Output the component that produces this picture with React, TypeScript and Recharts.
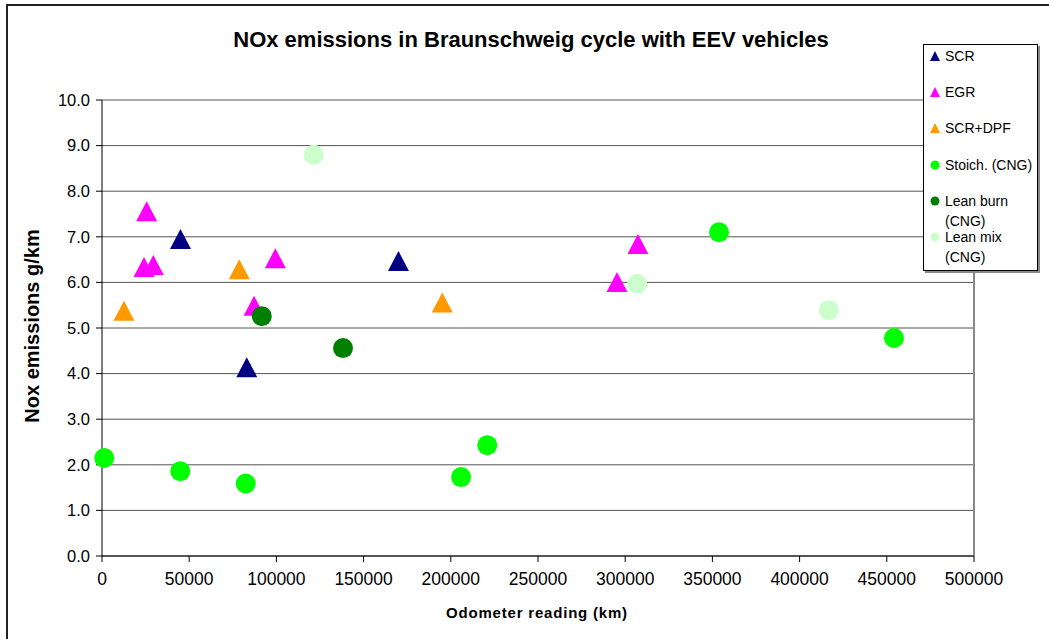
import React from "react";
import {
  ScatterChart,
  Scatter,
  XAxis,
  YAxis,
  CartesianGrid,
  ReferenceLine,
  Legend,
} from "recharts";

// odometer ticks and emission ticks
const xTicks = [0, 50000, 100000, 150000, 200000, 250000, 300000, 350000, 400000, 450000, 500000];
const yTicks = [0, 1, 2, 3, 4, 5, 6, 7, 8, 9, 10];

// values (km, g/km)
const scrKm = [45000, 83000, 170000];
const scrNox = [6.95, 4.14, 6.47];

const egrKm = [25600, 24100, 29400, 87200, 99400, 295300, 307300];
const egrNox = [7.56, 6.34, 6.38, 5.49, 6.53, 6.01, 6.84];

const scrDpfKm = [12600, 78700, 195100];
const scrDpfNox = [5.38, 6.29, 5.56];

const stoichKm = [1300, 44900, 82400, 205900, 220900, 353800, 454100];
const stoichNox = [2.15, 1.86, 1.59, 1.73, 2.43, 7.1, 4.78];

const leanBurnKm = [91600, 138200];
const leanBurnNox = [5.26, 4.56];

const leanMixKm = [121400, 306900, 416700];
const leanMixNox = [8.8, 5.97, 5.39];

const toPoints = (xs: number[], ys: number[]) => xs.map((x, i) => ({ km: x, nox: ys[i] }));

const FONT = '"Liberation Sans", Arial, sans-serif';

// marker shapes
const triangle = (color: string) => (props: any) => {
  const { cx, cy } = props;
  const w = 10.5;
  const h = 10;
  return <polygon points={`${cx},${cy - h} ${cx + w},${cy + h} ${cx - w},${cy + h}`} fill={color} />;
};

const circle = (color: string) => (props: any) => {
  const { cx, cy } = props;
  return <circle cx={cx} cy={cy} r={10} fill={color} />;
};

const seriesList = [
  { name: "SCR", data: toPoints(scrKm, scrNox), color: "#000080", kind: "tri" },
  { name: "EGR", data: toPoints(egrKm, egrNox), color: "#FF00FF", kind: "tri" },
  { name: "SCR+DPF", data: toPoints(scrDpfKm, scrDpfNox), color: "#FF9900", kind: "tri" },
  { name: "Stoich. (CNG)", data: toPoints(stoichKm, stoichNox), color: "#00FF00", kind: "dot" },
  { name: "Lean burn (CNG)", data: toPoints(leanBurnKm, leanBurnNox), color: "#008000", kind: "dot" },
  { name: "Lean mix (CNG)", data: toPoints(leanMixKm, leanMixNox), color: "#CCFFCC", kind: "dot" },
];

// legend rows: label lines
const legendLines = [["SCR"], ["EGR"], ["SCR+DPF"], ["Stoich. (CNG)"], ["Lean burn", "(CNG)"], ["Lean mix", "(CNG)"]];
const legendTops = [1, 37, 73, 110, 146, 182];

function LegendBox() {
  return (
    <div
      style={{
        position: "relative",
        width: 113,
        height: 225,
        border: "1px solid #000",
        background: "#fff",
        boxShadow: "2px 2px 0 #888",
        fontFamily: FONT,
        fontSize: 14,
        color: "#000",
      }}
    >
      {seriesList.map((s, i) => (
        <div key={s.name} style={{ position: "absolute", left: 0, top: legendTops[i], width: 113 }}>
          <svg width={20} height={20} style={{ position: "absolute", left: 1, top: 0 }}>
            {s.kind === "tri" ? (
              <polygon points="10,5 15,15 5,15" fill={s.color} />
            ) : (
              <circle cx={10} cy={10} r={4.5} fill={s.color} />
            )}
          </svg>
          <div style={{ position: "absolute", left: 21, top: 0, lineHeight: "20px", whiteSpace: "nowrap" }}>
            {legendLines[i].map((l) => (
              <div key={l}>{l}</div>
            ))}
          </div>
        </div>
      ))}
    </div>
  );
}

export default function App() {
  return (
    <div
      style={{
        position: "absolute",
        left: 0,
        top: 0,
        width: 1049,
        height: 639,
        overflow: "hidden",
        background: "#fff",
        fontFamily: FONT,
      }}
    >
      {/* outer chart border, runs off the right and bottom edges */}
      <div
        style={{
          position: "absolute",
          left: 6,
          top: 4,
          width: 1200,
          height: 800,
          border: "2px solid #222",
        }}
      />
      <div
        style={{
          position: "absolute",
          left: 531,
          top: 40,
          transform: "translate(-50%, -50%)",
          fontSize: 22,
          fontWeight: "bold",
          whiteSpace: "nowrap",
        }}
      >
        NOx emissions in Braunschweig cycle with EEV vehicles
      </div>
      <div
        style={{
          position: "absolute",
          left: 32,
          top: 326,
          transform: "translate(-50%, -50%) rotate(-90deg)",
          fontSize: 20,
          fontWeight: "bold",
          whiteSpace: "nowrap",
        }}
      >
        Nox emissions g/km
      </div>
      <div
        style={{
          position: "absolute",
          left: 537,
          top: 612,
          transform: "translate(-50%, -50%)",
          fontSize: 15,
          fontWeight: "bold",
          letterSpacing: 0.8,
          whiteSpace: "nowrap",
        }}
      >
        Odometer reading (km)
      </div>
      <div style={{ position: "absolute", left: 0, top: 0 }}>
        <ScatterChart width={1049} height={639} margin={{ top: 100, right: 75, bottom: 33, left: 42 }}>
          <CartesianGrid vertical={false} stroke="#555" />
          <XAxis
            type="number"
            dataKey="km"
            domain={[0, 500000]}
            ticks={xTicks}
            interval={0}
            height={50}
            axisLine={{ stroke: "#000" }}
            tickLine={{ stroke: "#000" }}
            tickSize={6}
            tickMargin={11}
            tick={{ fill: "#000", fontSize: 17.5, fontFamily: FONT }}
          />
          <YAxis
            type="number"
            dataKey="nox"
            domain={[0, 10]}
            ticks={yTicks}
            interval={0}
            width={60}
            axisLine={{ stroke: "#000" }}
            tickLine={{ stroke: "#000" }}
            tickSize={6}
            tickMargin={6}
            tickFormatter={(v) => Number(v).toFixed(1)}
            tick={{ fill: "#000", fontSize: 16.5, fontFamily: FONT }}
          />
          <ReferenceLine x={500000} stroke="#888" strokeWidth={2} />
          <Legend
            layout="vertical"
            align="center"
            verticalAlign="middle"
            wrapperStyle={{ position: "absolute", left: 923, top: 44, width: 116, height: 228 }}
            content={() => <LegendBox />}
          />
          {seriesList.map((s) => (
            <Scatter
              key={s.name}
              name={s.name}
              data={s.data}
              fill={s.color}
              shape={s.kind === "tri" ? triangle(s.color) : circle(s.color)}
              isAnimationActive={false}
            />
          ))}
        </ScatterChart>
      </div>
    </div>
  );
}
